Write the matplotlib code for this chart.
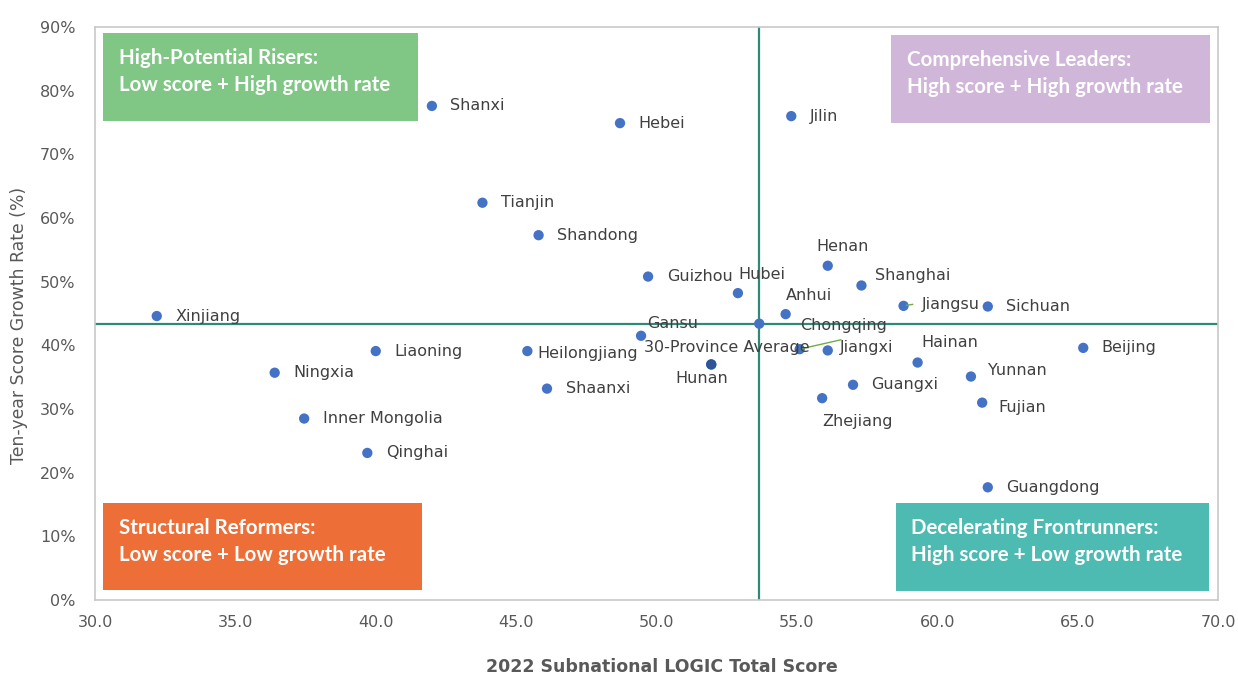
import matplotlib
matplotlib.use("Agg")
import matplotlib.pyplot as plt
from matplotlib.patches import Rectangle
from matplotlib.ticker import FuncFormatter

# ---------------- data ----------------
provinces = ["Shanxi", "Hebei", "Jilin", "Tianjin", "Shandong", "Guizhou", "Hubei",
             "Henan", "Shanghai", "Anhui", "Jiangsu", "Sichuan", "Xinjiang", "Gansu",
             "Chongqing", "Jiangxi", "Liaoning", "Heilongjiang", "Hunan", "Hainan",
             "Beijing", "Ningxia", "Yunnan", "Shaanxi", "Guangxi", "Zhejiang", "Fujian",
             "Inner Mongolia", "Qinghai", "Guangdong"]
scores = [42.0, 48.7, 54.8, 43.8, 45.8, 49.7, 52.9,
          56.1, 57.3, 54.6, 58.8, 61.8, 32.2, 49.45,
          55.1, 56.1, 40.0, 45.4, 51.95, 59.3,
          65.2, 36.4, 61.2, 46.1, 57.0, 55.9, 61.6,
          37.45, 39.7, 61.8]
growth = [77.6, 74.9, 76.0, 62.4, 57.3, 50.8, 48.2,
          52.5, 49.4, 44.9, 46.2, 46.1, 44.6, 41.5,
          39.4, 39.2, 39.1, 39.1, 37.0, 37.3,
          39.6, 35.7, 35.1, 33.2, 33.8, 31.7, 31.0,
          28.5, 23.1, 17.7]
avg_name = "30-Province Average"
avg_score = 53.66
avg_growth = 43.4

x_ticks = [30.0, 35.0, 40.0, 45.0, 50.0, 55.0, 60.0, 65.0, 70.0]
y_ticks = [0, 10, 20, 30, 40, 50, 60, 70, 80, 90]

quadrants = [
    ("High-Potential Risers:\nLow score + High growth rate", "#80C684"),
    ("Comprehensive Leaders:\nHigh score + High growth rate", "#D0B6D9"),
    ("Structural Reformers:\nLow score + Low growth rate", "#ED6E37"),
    ("Decelerating Frontrunners:\nHigh score + Low growth rate", "#4EBBB2"),
]

# ---------------- style / layout ----------------
# label offsets in pixels (dx to left edge of text, dy upward), ha
default_off = (18.5, 0, "left")
label_off = {
    "Henan": (15, 19, "center"),
    "Hubei": (0, 19, "left"),
    "Anhui": (0, 19, "left"),
    "Chongqing": (0, 24, "left"),
    "Gansu": (6, 12, "left"),
    "Hunan": (-9, -14, "center"),
    "Hainan": (4, 20, "left"),
    "Zhejiang": (0, -23, "left"),
    "Yunnan": (17, 6, "left"),
    "Fujian": (16, -5, "left"),
    "Heilongjiang": (10, -2, "left"),
    "Jiangxi": (12, 3, "left"),
    "Shanghai": (14, 10, "left"),
    "Guizhou": (19, 0, "left"),
    "Jiangsu": (18, 1.5, "left"),
}

DPI = 100
fig = plt.figure(figsize=(12.38, 6.75), dpi=DPI)
ax = fig.add_axes([95 / 1238, 75 / 675, 1123 / 1238, 573 / 675])

point_color = "#4472C4"
line_color = "#2E8A77"
label_color = "#404040"
tick_color = "#595959"

ax.set_xlim(30, 70)
ax.set_ylim(0, 90)
ax.set_xticks(x_ticks)
ax.set_yticks(y_ticks)
ax.xaxis.set_major_formatter(FuncFormatter(lambda v, p: f"{v:.1f}"))
ax.yaxis.set_major_formatter(FuncFormatter(lambda v, p: f"{v:.0f}%"))
ax.tick_params(length=0, labelsize=11.5, colors=tick_color)
ax.tick_params(axis="y", pad=14)
ax.tick_params(axis="x", pad=11)
for s in ax.spines.values():
    s.set_color("#C8C8C8")
    s.set_linewidth(1.2)

# average lines
ax.axvline(avg_score, color=line_color, lw=1.6, zorder=2)
ax.axhline(avg_growth, color=line_color, lw=1.6, zorder=2)

# quadrant boxes
box_pos = [(0.007, 0.836, 0.281, 0.154), (0.709, 0.832, 0.284, 0.154),
           (0.007, 0.017, 0.284, 0.152), (0.713, 0.016, 0.279, 0.153)]
for (txt, col), (bx, by, bw, bh) in zip(quadrants, box_pos):
    ax.add_patch(Rectangle((bx, by), bw, bh, transform=ax.transAxes,
                           facecolor=col, edgecolor="none", zorder=1))
    ax.text(bx + 0.014, by + bh - 0.026, txt, transform=ax.transAxes,
            ha="left", va="top", color="white", fontsize=14.8,
            fontweight="bold", family="Lato", linespacing=1.45, zorder=1.5)

# points
ax.scatter(scores, growth, s=55, color=point_color, zorder=3, edgecolors="none")
hunan_i = provinces.index("Hunan")
ax.scatter([scores[hunan_i]], [growth[hunan_i]], s=55, color="#2F5597",
           zorder=3.5, edgecolors="none")
ax.scatter([avg_score], [avg_growth], s=55, color=point_color, zorder=3,
           edgecolors="none")

for name, xv, yv in zip(provinces, scores, growth):
    dx, dy, ha = label_off.get(name, default_off)
    ax.annotate(name, (xv, yv), xytext=(dx, dy), textcoords="offset pixels",
                ha=ha, va="center", fontsize=11.5, color=label_color, zorder=4)

# leader lines
ci = provinces.index("Chongqing")
ax.annotate("", (scores[ci], growth[ci]), xytext=(44, 10), textcoords="offset pixels",
            arrowprops=dict(arrowstyle="-", color="#70AD47", lw=1.0), zorder=3.2)
ji = provinces.index("Jiangsu")
ax.annotate("", (scores[ji], growth[ji]), xytext=(12, 2), textcoords="offset pixels",
            arrowprops=dict(arrowstyle="-", color="#70AD47", lw=1.0), zorder=3.2)

ax.annotate(avg_name, (avg_score, avg_growth), xytext=(-32, -24),
            textcoords="offset pixels", ha="center", va="center",
            fontsize=11.5, color=label_color, zorder=4)

ax.set_ylabel("Ten-year Score Growth Rate (%)", fontsize=12.4, color=tick_color)
ax.yaxis.set_label_coords(-0.0595, 0.48)
fig.text(662 / 1238, 1 - 667 / 675, "2022 Subnational LOGIC Total Score",
         ha="center", va="center", fontsize=12.5, fontweight="bold", color=tick_color)

fig.savefig("out.png", dpi=DPI)
